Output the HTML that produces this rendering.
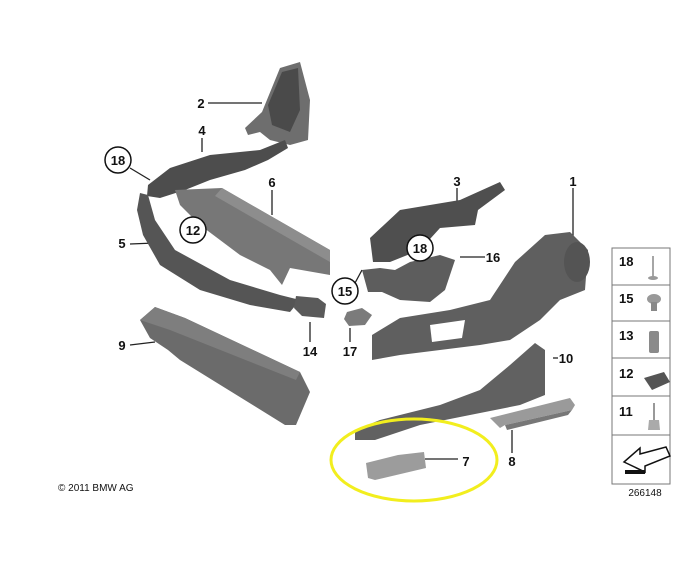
<!DOCTYPE html>
<html><head><meta charset="utf-8"><style>
html,body{margin:0;padding:0;background:#fff;}
svg{display:block;}
text{font-family:"Liberation Sans",sans-serif;font-weight:bold;fill:#111;}
</style></head><body>
<svg width="700" height="577" viewBox="0 0 700 577" xmlns="http://www.w3.org/2000/svg">
<rect width="700" height="577" fill="#fff"/>
<g stroke="#222" stroke-width="1.3">
<line x1="208" y1="103" x2="262" y2="103"/>
<line x1="202" y1="138" x2="202" y2="152"/>
<line x1="130" y1="168" x2="150" y2="180"/>
<line x1="272" y1="190" x2="272" y2="215"/>
<line x1="130" y1="244" x2="155" y2="243"/>
<line x1="130" y1="345" x2="155" y2="342"/>
<line x1="310" y1="342" x2="310" y2="322"/>
<line x1="350" y1="342" x2="350" y2="328"/>
<line x1="457" y1="188" x2="457" y2="205"/>
<line x1="460" y1="257" x2="485" y2="257"/>
<line x1="573" y1="188" x2="573" y2="240"/>
<line x1="553" y1="358" x2="558" y2="358"/>
<line x1="512" y1="453" x2="512" y2="430"/>
<line x1="425" y1="459" x2="458" y2="459"/>
<line x1="355" y1="283" x2="362" y2="270"/>
</g>
<!-- part 2 disk -->
<path d="M262,112 L280,68 L300,62 L310,100 L308,140 L290,145 L270,140 L260,132 L248,135 L245,128 Z" fill="#6e6e6e"/>
<path d="M268,105 L282,72 L298,68 L300,110 L290,132 L272,125 Z" fill="#4a4a4a"/>
<!-- part 4 strip -->
<path d="M148,185 L170,168 L210,155 L260,150 L285,140 L288,148 L268,160 L245,170 L210,180 L185,190 L160,198 L147,196 Z" fill="#4d4d4d"/>
<!-- part 6 -->
<path d="M175,190 L222,188 L330,250 L330,275 L290,268 L282,285 L270,270 L240,255 L220,240 L200,225 L180,205 Z" fill="#777"/>
<path d="M222,188 L330,250 L330,262 L215,196 Z" fill="#8d8d8d"/>
<!-- part 5 -->
<path d="M140,193 L148,195 L155,220 L175,250 L230,280 L280,295 L300,300 L290,312 L250,305 L200,290 L160,265 L143,235 L137,210 Z" fill="#555"/>
<!-- 14 -->
<path d="M296,296 L318,298 L326,304 L324,318 L302,316 L294,308 Z" fill="#5a5a5a"/>
<!-- 17 -->
<path d="M347,312 L362,308 L372,315 L365,325 L349,326 L344,319 Z" fill="#7b7b7b"/>
<!-- 9 -->
<path d="M140,320 L155,307 L185,318 L300,372 L310,392 L296,425 L285,425 L180,360 L168,350 L150,338 Z" fill="#6b6b6b"/>
<path d="M140,320 L155,307 L185,318 L300,372 L296,380 L170,330 Z" fill="#7e7e7e"/>
<!-- part 3 frame -->
<path d="M370,238 L400,210 L460,200 L500,182 L505,190 L478,210 L475,225 L440,228 L420,250 L390,262 L373,262 Z" fill="#4f4f4f"/>
<path d="M362,270 L380,268 L395,270 L410,262 L440,255 L455,260 L445,290 L430,302 L400,300 L382,292 L368,292 Z" fill="#5d5d5d"/>
<!-- part 1 -->
<path d="M372,335 L400,318 L450,310 L490,300 L515,262 L545,235 L570,232 L588,250 L585,290 L560,300 L540,320 L510,340 L480,345 L440,350 L400,355 L372,360 Z" fill="#5f5f5f"/>
<path d="M430,325 L465,320 L462,338 L432,342 Z" fill="#fff"/>
<ellipse cx="577" cy="262" rx="13" ry="20" fill="#545454"/>
<!-- part 10 -->
<path d="M355,430 L380,420 L440,405 L480,390 L510,365 L535,343 L545,350 L545,395 L520,405 L470,415 L420,425 L375,440 L355,440 Z" fill="#616161"/>
<!-- part 8 -->
<path d="M490,418 L570,398 L575,405 L572,410 L505,425 L500,428 Z" fill="#9a9a9a"/>
<path d="M505,425 L572,410 L568,415 L507,430 Z" fill="#777"/>
<!-- part 7 -->
<path d="M366,463 L398,455 L424,452 L426,468 L375,480 L368,478 Z" fill="#9c9c9c"/>
<!-- yellow ellipse -->
<ellipse cx="414" cy="460" rx="83" ry="41" fill="none" stroke="#f2ee1e" stroke-width="3"/>
<!-- labels -->
<g font-size="13">
<text x="201" y="108" text-anchor="middle">2</text>
<text x="202" y="135" text-anchor="middle">4</text>
<text x="272" y="187" text-anchor="middle">6</text>
<text x="122" y="248" text-anchor="middle">5</text>
<text x="122" y="350" text-anchor="middle">9</text>
<text x="310" y="356" text-anchor="middle">14</text>
<text x="350" y="356" text-anchor="middle">17</text>
<text x="457" y="186" text-anchor="middle">3</text>
<text x="493" y="262" text-anchor="middle">16</text>
<text x="573" y="186" text-anchor="middle">1</text>
<text x="566" y="363" text-anchor="middle">10</text>
<text x="512" y="466" text-anchor="middle">8</text>
<text x="466" y="466" text-anchor="middle">7</text>
</g>
<g fill="#fff" stroke="#111" stroke-width="1.5">
<circle cx="118" cy="160" r="13"/>
<circle cx="193" cy="230" r="13"/>
<circle cx="420" cy="248" r="13"/>
<circle cx="345" cy="291" r="13"/>
</g>
<g font-size="13" text-anchor="middle">
<text x="118" y="165">18</text>
<text x="193" y="235">12</text>
<text x="420" y="253">18</text>
<text x="345" y="296">15</text>
</g>
<!-- legend -->
<g fill="none" stroke="#777" stroke-width="1">
<rect x="612" y="248" width="58" height="236"/>
<line x1="612" y1="285" x2="670" y2="285"/>
<line x1="612" y1="321" x2="670" y2="321"/>
<line x1="612" y1="358" x2="670" y2="358"/>
<line x1="612" y1="396" x2="670" y2="396"/>
<line x1="612" y1="435" x2="670" y2="435"/>
</g>
<g font-size="13">
<text x="619" y="266">18</text>
<text x="619" y="303">15</text>
<text x="619" y="340">13</text>
<text x="619" y="378">12</text>
<text x="619" y="416">11</text>
</g>
<line x1="653" y1="256" x2="653" y2="278" stroke="#888" stroke-width="1.5"/>
<ellipse cx="653" cy="278" rx="5" ry="2" fill="#999"/>
<ellipse cx="654" cy="299" rx="7" ry="5" fill="#999"/>
<rect x="651" y="302" width="6" height="9" fill="#888"/>
<rect x="649" y="331" width="10" height="22" rx="2" fill="#8a8a8a"/>
<path d="M644,378 L664,372 L670,382 L652,390 Z" fill="#555"/>
<line x1="654" y1="403" x2="654" y2="420" stroke="#999" stroke-width="2"/>
<path d="M649,420 L659,420 L660,430 L648,430 Z" fill="#aaa"/>
<path d="M624,462 L640,448 L640,454 L666,447 L670,456 L645,466 L645,472 Z" fill="#fff" stroke="#111" stroke-width="1.5"/>
<path d="M625,470 L645,470 L645,474 L625,474 Z" fill="#111"/>
<text x="645" y="496" font-size="10" font-weight="normal" text-anchor="middle" fill="#333" style="font-weight:normal">266148</text>
<text x="58" y="491" font-size="10" text-anchor="start" style="font-weight:normal">© 2011 BMW AG</text>
</svg>
</body></html>
